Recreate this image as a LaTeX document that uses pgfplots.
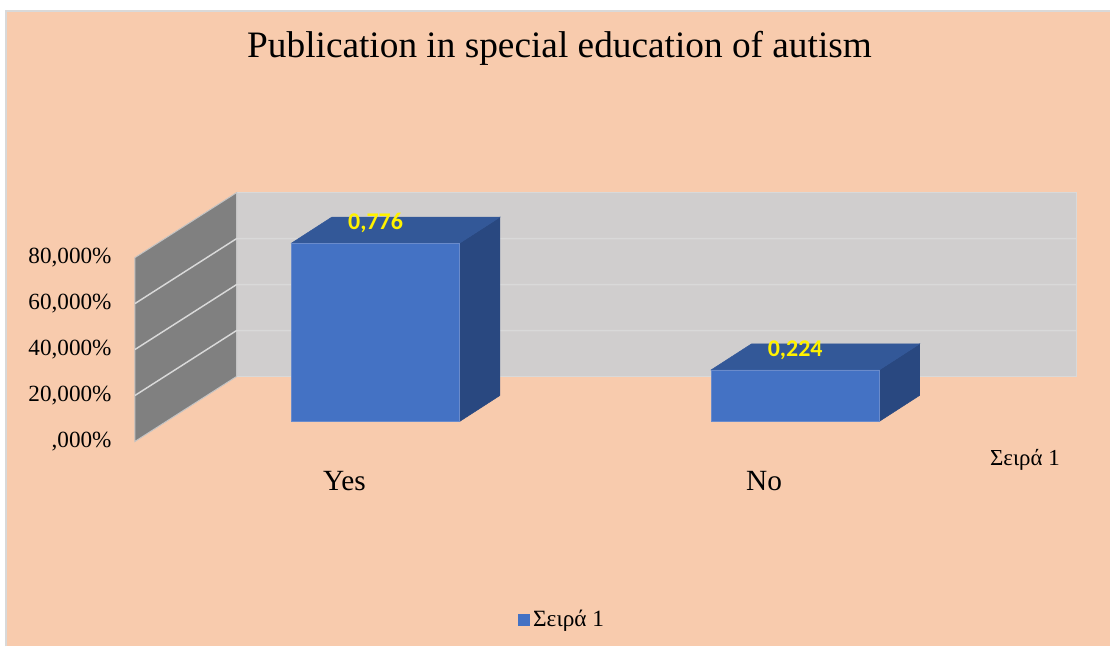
\documentclass[border=0pt]{standalone}
\usepackage{pgfplots}
\pgfplotsset{compat=1.18}
\usepackage{pgfplotstable}
\usepackage{fontspec}
\setmainfont{Liberation Serif}
\newfontfamily\carlito{Carlito}
\definecolor{peach}{HTML}{F8CBAD}
\definecolor{backwall}{HTML}{D0CECE}
\definecolor{leftwall}{HTML}{808080}
\definecolor{gridc}{HTML}{D9D9D9}
\definecolor{wedge}{HTML}{C4C4C4}
\definecolor{barfront}{HTML}{4472C4}
\definecolor{bartop}{HTML}{335898}
\definecolor{barside}{HTML}{294880}
\definecolor{baredge}{HTML}{6A8BCB}
\definecolor{frameg}{HTML}{D9D9D9}

\pgfplotstableread{
x v
375.85 0.776
795.85 0.224
}\datatable

\begin{document}
\begin{tikzpicture}
% page background and frame
\fill[white] (0,0) rectangle (833.25pt,485.25pt);
\fill[peach] (5.25pt,0) rectangle (833.25pt,477pt);
\draw[frameg, line width=1.5pt] (4.5pt,0) -- (4.5pt,477.4pt) -- (833.25pt,477.4pt);
\begin{axis}[
  at={(0,0)}, anchor=south west,
  x=0.75pt, y=1.725pt,
  xmin=0, xmax=1111, ymin=-97.96, ymax=183.35,
  scale only axis, clip=false,
  axis line style={draw=none},
  major tick length=0pt,
  /pgf/number format/assume math mode=true,
  xtick={344.7,764.7}, xticklabels={Yes,No},
  xticklabel style={anchor=base, yshift=117.2pt, inner sep=0pt, font=\fontsize{22}{26}\selectfont},
  ytick={-8.70,11.30,31.30,51.30,71.30},
  yticklabels={{,000\%},{20,000\%},{40,000\%},{60,000\%},{80,000\%}},
  yticklabel style={anchor=east, xshift=83.8pt, inner sep=0pt, font=\fontsize{17.4}{20}\selectfont},
  title={Publication in special education of autism},
  title style={at={(0.504,0.8985)}, anchor=base, inner sep=0pt, font=\fontsize{28}{32}\selectfont},
  legend style={draw=none, fill=none, at={(0.5068,0.0417)}, anchor=center,
    font=\fontsize{17.5}{20}\selectfont, inner sep=0pt,
    nodes={inner sep=2.6pt}},
]
% walls
\addplot[fill=backwall, draw=gridc, line width=0.75pt, forget plot]
  coordinates {(236.7,19.56) (1077.7,19.56) (1077.7,99.56) (236.7,99.56)} -- cycle;
\addplot[fill=leftwall, draw=wedge, line width=0.75pt, forget plot]
  coordinates {(135,-8.70) (236.7,19.56) (236.7,99.56) (135,71.30)} -- cycle;
% gridlines
\addplot[gridc, line width=1.1pt, forget plot] coordinates {(135,11.30) (236.7,39.56) (1077.7,39.56)};
\addplot[gridc, line width=1.1pt, forget plot] coordinates {(135,31.30) (236.7,59.56) (1077.7,59.56)};
\addplot[gridc, line width=1.1pt, forget plot] coordinates {(135,51.30) (236.7,79.56) (1077.7,79.56)};
% bar tops and sides
\addplot[fill=barside, draw=barside, line width=0.4pt, forget plot]
  coordinates {(460,0) (500.3,11.3) (500.3,88.9) (460,77.6)} -- cycle;
\addplot[fill=bartop, draw=bartop, line width=0.4pt, forget plot]
  coordinates {(291.7,77.6) (332,88.9) (500.3,88.9) (460,77.6)} -- cycle;
\addplot[fill=barside, draw=barside, line width=0.4pt, forget plot]
  coordinates {(880,0) (920.3,11.3) (920.3,33.7) (880,22.4)} -- cycle;
\addplot[fill=bartop, draw=bartop, line width=0.4pt, forget plot]
  coordinates {(711.7,22.4) (752,33.7) (920.3,33.7) (880,22.4)} -- cycle;
% bar fronts
\addplot[ybar, bar width=168.3, fill=barfront, draw=baredge, line width=0.5pt,
  point meta=explicit,
  nodes near coords={\pgfmathprintnumber[fixed, fixed zerofill, precision=3, use comma]{\pgfplotspointmeta}},
  every node near coord/.append style={anchor=center, yshift=15.0pt, text=yellow,
    font=\carlito\bfseries\fontsize{18}{20}\selectfont},
  legend image code/.code={\fill[barfront] (0pt,-4.25pt) rectangle (8.5pt,4.25pt);}]
  table[x=x, y expr=\thisrow{v}*100, meta=v] {\datatable};
\addlegendentry{Σειρά 1}
% depth axis label
\node[anchor=base west, inner sep=0pt, font=\fontsize{17.2}{20}\selectfont]
  at (axis cs:990.7,-19.17) {Σειρά 1};
\end{axis}
\end{tikzpicture}
\end{document}
